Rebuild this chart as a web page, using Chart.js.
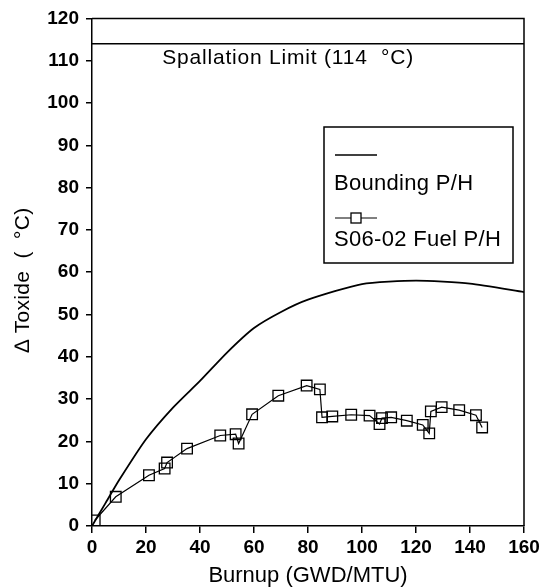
<!DOCTYPE html>
<html>
<head>
<meta charset="utf-8">
<script src="https://cdn.jsdelivr.net/npm/chart.js@4.4.0/dist/chart.umd.min.js"></script>
<style>
  html, body { margin: 0; padding: 0; background: #fff; }
  #wrap { width: 545px; height: 587px; }
</style>
</head>
<body>
<div id="wrap"><canvas id="chart" width="545" height="587"></canvas></div>
<script>
// Bounding P/H curve
const boundX = [0, 5, 10, 20, 30, 40, 50, 60, 70, 80, 100, 120, 140, 160];
const boundY = [0, 5.4, 10.8, 20.5, 28, 34.3, 41, 46.8, 50.6, 53.5, 57.2, 58.0, 57.3, 55.3];

// S06-02 fuel measurements
const fuelX = [1.0, 8.8, 21.1, 26.9, 27.8, 35.2, 47.5, 53.2, 54.3, 59.3, 69.0, 79.5, 84.4,
               85.2, 89.0, 96.0, 102.8, 106.5, 107.4, 110.8, 116.6, 122.5, 124.9, 125.5,
               129.5, 136.0, 142.2, 144.5];
const fuelY = [1.3, 6.9, 12.0, 13.6, 15.0, 18.3, 21.4, 21.7, 19.5, 26.4, 30.8, 33.2, 32.3,
               25.7, 25.9, 26.3, 26.1, 24.1, 25.5, 25.7, 24.9, 23.9, 21.9, 27.1,
               28.1, 27.4, 26.2, 23.3];

// spallation limit
const limitX = [0, 160];
const limitY = [114, 114];

const xTicks = [0, 20, 40, 60, 80, 100, 120, 140, 160];
const yTicks = [0, 10, 20, 30, 40, 50, 60, 70, 80, 90, 100, 110, 120];

const FONT = "'Liberation Sans', Arial, Helvetica, sans-serif";

const toPoints = (xs, ys) => xs.map((x, i) => ({ x: x, y: ys[i] }));

// frame, annotation text, legend, y title
const extras = {
    id: 'extras',
    afterDraw(chart) {
        const ctx = chart.ctx;
        const a = chart.chartArea;
        const xs = chart.scales.x, ys = chart.scales.y;
        ctx.save();
        ctx.strokeStyle = '#000';
        ctx.lineWidth = 1.5;
        ctx.beginPath();
        ctx.moveTo(a.left, a.top);
        ctx.lineTo(a.right, a.top);
        ctx.lineTo(a.right, a.bottom);
        ctx.stroke();

        ctx.fillStyle = '#000';
        ctx.font = '21px ' + FONT;
        ctx.letterSpacing = '0.8px';
        ctx.textBaseline = 'middle';
        ctx.textAlign = 'left';
        ctx.fillText('Spallation Limit (114  °C)', xs.getPixelForValue(26), ys.getPixelForValue(110.6));

        // legend box
        const lx = 324, ly = 127, lw = 189, lh = 136;
        ctx.fillStyle = '#fff';
        ctx.fillRect(lx, ly, lw, lh);
        ctx.lineWidth = 1.5;
        ctx.strokeRect(lx, ly, lw, lh);
        ctx.fillStyle = '#000';
        ctx.font = '22px ' + FONT;
        ctx.letterSpacing = '0.3px';
        ctx.lineWidth = 1.6;
        ctx.beginPath();
        ctx.moveTo(lx + 11, ly + 28);
        ctx.lineTo(lx + 53, ly + 28);
        ctx.stroke();
        ctx.fillText('Bounding P/H', lx + 10, ly + 57);
        ctx.lineWidth = 1;
        ctx.beginPath();
        ctx.moveTo(lx + 11, ly + 91);
        ctx.lineTo(lx + 53, ly + 91);
        ctx.stroke();
        ctx.fillStyle = '#fff';
        ctx.fillRect(lx + 27, ly + 86, 10, 10);
        ctx.lineWidth = 1.3;
        ctx.strokeRect(lx + 27, ly + 86, 10, 10);
        ctx.fillStyle = '#000';
        ctx.fillText('S06-02 Fuel P/H', lx + 10, ly + 113);

        // y axis title
        ctx.translate(23, 280);
        ctx.rotate(-Math.PI / 2);
        ctx.textAlign = 'center';
        ctx.font = '21px ' + FONT;
        ctx.letterSpacing = '0.3px';
        ctx.fillText('\u2206 Toxide  (  °C)', 0, 0);
        ctx.restore();
    }
};

new Chart(document.getElementById('chart'), {
    type: 'scatter',
    data: {
        datasets: [
            {
                label: 'Spallation Limit',
                data: toPoints(limitX, limitY),
                showLine: true,
                borderColor: '#000',
                borderWidth: 1.5,
                pointRadius: 0
            },
            {
                label: 'Bounding P/H',
                data: toPoints(boundX, boundY),
                showLine: true,
                borderColor: '#000',
                borderWidth: 1.8,
                pointRadius: 0,
                tension: 0.2
            },
            {
                label: 'S06-02 Fuel P/H',
                data: toPoints(fuelX, fuelY),
                showLine: true,
                borderColor: '#000',
                borderWidth: 1.2,
                pointStyle: 'rect',
                pointRadius: 7.5,
                pointBackgroundColor: 'rgba(255,255,255,0)',
                pointBorderColor: '#000',
                pointBorderWidth: 1.3
            }
        ]
    },
    options: {
        responsive: false,
        animation: false,
        layout: { padding: { top: 17, right: 21, left: 0, bottom: 0 } },
        plugins: {
            legend: { display: false },
            tooltip: { enabled: false }
        },
        scales: {
            x: {
                type: 'linear',
                min: 0,
                max: 160,
                afterFit: s => { s.height = 61; },
                afterBuildTicks: s => { s.ticks = xTicks.map(v => ({ value: v })); },
                grid: { display: true, drawOnChartArea: false, drawTicks: true, tickLength: 7, color: '#000', lineWidth: 1.5 },
                border: { display: true, color: '#000', width: 1.5 },
                ticks: { color: '#000', padding: 3, font: { family: FONT, size: 19, weight: 'bold' }, maxRotation: 0 },
                title: { display: true, text: 'Burnup (GWD/MTU)', color: '#000', font: { family: FONT, size: 22, lineHeight: 1.0 }, padding: { top: 0, bottom: 0 } }
            },
            y: {
                type: 'linear',
                min: 0,
                max: 120,
                afterFit: s => { s.width = 92; },
                afterBuildTicks: s => { s.ticks = yTicks.map(v => ({ value: v })); },
                grid: { display: true, drawOnChartArea: false, drawTicks: true, tickLength: 6, color: '#000', lineWidth: 1.5 },
                border: { display: true, color: '#000', width: 1.5 },
                ticks: { color: '#000', padding: 7, font: { family: FONT, size: 19, weight: 'bold' } }
            }
        }
    },
    plugins: [extras]
});
</script>
</body>
</html>
